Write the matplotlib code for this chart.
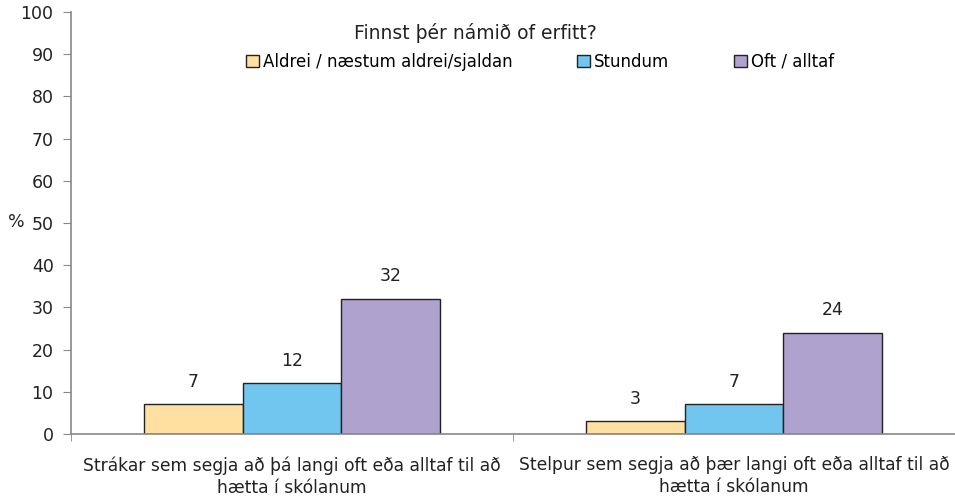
import matplotlib.pyplot as plt
import numpy as np

plt.rcParams['font.family'] = ['DejaVu Sans']

categories = ['Strákar sem segja að þá langi oft eða alltaf til að\nhætta í skólanum',
              'Stelpur sem segja að þær langi oft eða alltaf til að\nhætta í skólanum']
series = ['Aldrei / næstum aldrei/sjaldan', 'Stundum', 'Oft / alltaf']
values = [[7, 3], [12, 7], [32, 24]]
colors = ['#FFE0A0', '#70C6EE', '#B0A2CE']

fig = plt.figure(figsize=(9.55, 4.99), dpi=100)
ax = fig.add_axes([0.0743, 0.1303, 0.9257, 0.8457])

x = np.arange(len(categories))
w = 0.223
handles = []
for i, (name, vals, c) in enumerate(zip(series, values, colors)):
    bars = ax.bar(x + (i - 1) * w, vals, w, color=c, edgecolor='#222222',
                  linewidth=1.0, label=name)
    handles.append(bars)
    for b, v in zip(bars, vals):
        ax.text(b.get_x() + b.get_width() / 2, v + 3.2, str(v),
                ha='center', va='bottom', fontsize=12.5, color='#222222')

ax.set_xlim(-0.5, 1.5)
ax.set_ylim(0, 100)
ax.set_yticks(range(0, 101, 10))
ax.set_xticks([-0.5, 0.5, 1.5], minor=True)
ax.set_xticks(x)
ax.set_xticklabels(categories, fontsize=12.3, color='#222222', linespacing=1.28)
ax.tick_params(axis='x', which='major', length=0, pad=16)
ax.tick_params(axis='x', which='minor', length=5, color='#888888')
ax.tick_params(axis='y', length=5.5, color='#888888', labelsize=12.5,
               labelcolor='#222222', pad=7)
for s in ['top', 'right']:
    ax.spines[s].set_visible(False)
for s in ['left', 'bottom']:
    ax.spines[s].set_color('#888888')
    ax.spines[s].set_linewidth(1.2)

fig.text(0.008, 1 - 222 / 499, '%', fontsize=12.5, color='#222222', va='center')
fig.text(475 / 955, 1 - 33 / 499, 'Finnst þér námið of erfitt?', fontsize=13.5,
         ha='center', va='center', color='#222222')
fig.legend(handles=handles, loc='center', bbox_to_anchor=(540 / 955, 1 - 62 / 499),
           ncol=3, frameon=False, fontsize=12, handlelength=0.75, handleheight=0.75,
           handletextpad=0.25, columnspacing=3.9)

fig.savefig('out.png', dpi=100)
